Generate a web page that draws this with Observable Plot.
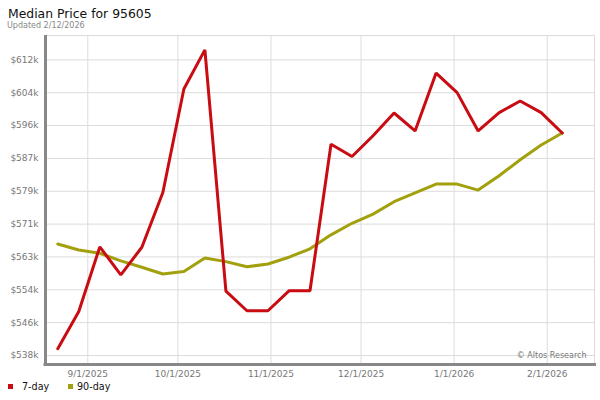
<!DOCTYPE html>
<html>
<head>
<meta charset="utf-8">
<script src="https://cdn.jsdelivr.net/npm/d3@7"></script>
<script src="https://cdn.jsdelivr.net/npm/@observablehq/plot@0.6"></script>
<style>
  body { margin: 0; background: #fff; font-family: "DejaVu Sans", sans-serif; }
  #wrap { position: relative; width: 600px; height: 400px; overflow: hidden; }
  #chart { position: absolute; left: 0; top: 0; }
  .abs { position: absolute; line-height: 1; white-space: nowrap; }
  #title { left: 8px; top: 7.5px; font-size: 12.4px; color: #111; }
  #sub { left: 7px; top: 21.6px; font-size: 8px; color: #888; }
  .sw { position: absolute; width: 5px; height: 5px; }
  .lg { font-size: 9.6px; color: #111; top: 381.8px; }
</style>
</head>
<body>
<div id="wrap">
  <div id="chart"></div>
  <div class="abs" id="title">Median Price for 95605</div>
  <div class="abs" id="sub">Updated 2/12/2026</div>
  <div id="legend"></div>
</div>
<script>
// ---- data ----
const dates = ["2025-08-22","2025-08-29","2025-09-05","2025-09-12","2025-09-19","2025-09-26",
  "2025-10-03","2025-10-10","2025-10-17","2025-10-24","2025-10-31","2025-11-07","2025-11-14",
  "2025-11-21","2025-11-28","2025-12-05","2025-12-12","2025-12-19","2025-12-26","2026-01-02",
  "2026-01-09","2026-01-16","2026-01-23","2026-01-30","2026-02-06"];
const sevenDay = [540200, 549500, 565700, 558700, 565600, 579300, 605200, 615000, 554600, 549700,
  549700, 554700, 554700, 591400, 588300, 593500, 599200, 594700, 609200, 604300,
  594700, 599300, 602200, 599300, 594200];
const ninetyDay = [566400, 564900, 564100, 562200, 560600, 558900, 559500, 562900, 562000, 560700,
  561400, 563100, 565200, 568700, 571600, 573900, 577000, 579200, 581400, 581400,
  579900, 583500, 587500, 591200, 594200];
const seriesNames = ["7-day", "90-day"];
const seriesColors = ["#c80c12", "#a3a00e"];
const yTicks = [538500, 546720, 554940, 563170, 571390, 579610, 587830, 596060, 604280, 612500];
const yTickLabels = ["$538k","$546k","$554k","$563k","$571k","$579k","$587k","$596k","$604k","$612k"];
const xTicks = ["2025-09-01","2025-10-01","2025-11-01","2025-12-01","2026-01-01","2026-02-01"];
const xTickLabels = ["9/1/2025","10/1/2025","11/1/2025","12/1/2025","1/1/2026","2/1/2026"];
const xDomain = ["2025-08-17T22:00Z", "2026-02-16T18:00Z"];
const yDomain = [536250, 618600];
const credit = "© Altos Research";

// ---- build ----
const rows = [];
dates.forEach((d, i) => {
  rows.push({date: new Date(d), value: sevenDay[i], series: seriesNames[0]});
  rows.push({date: new Date(d), value: ninetyDay[i], series: seriesNames[1]});
});
const xTickDates = xTicks.map(d => new Date(d));
const xLabelMap = new Map(xTickDates.map((d, i) => [+d, xTickLabels[i]]));
const yLabelMap = new Map(yTicks.map((t, i) => [t, yTickLabels[i]]));
const xd = xDomain.map(d => new Date(d));

const chart = Plot.plot({
  width: 600, height: 400,
  marginTop: 35, marginLeft: 45, marginRight: 6, marginBottom: 36,
  style: {fontFamily: "DejaVu Sans, sans-serif", fontSize: "9px", color: "#777", background: "transparent", overflow: "visible"},
  x: {type: "utc", domain: xd},
  y: {domain: yDomain},
  marks: [
    Plot.gridX(xTickDates, {stroke: "#dcdcdc", strokeOpacity: 1}),
    Plot.gridY(yTicks, {stroke: "#dcdcdc", strokeOpacity: 1}),
    Plot.frame({stroke: "#dcdcdc"}),
    Plot.text([credit], {frameAnchor: "bottom-right", dx: -8, dy: -7, fontSize: 8, fill: "#777", className: "credit"}),
    Plot.axisY(yTicks, {tickSize: 0, tickPadding: 7, tickFormat: d => yLabelMap.get(d), label: null, fill: "#777", fontSize: 9}),
    Plot.axisX(xTickDates, {tickSize: 0, tickPadding: 6, tickFormat: d => xLabelMap.get(+d), label: null, fill: "#777", fontSize: 9}),
    Plot.line(rows.filter(r => r.series === seriesNames[1]), {x: "date", y: "value", stroke: seriesColors[1], strokeWidth: 3, strokeLinejoin: "miter"}),
    Plot.line(rows.filter(r => r.series === seriesNames[0]), {x: "date", y: "value", stroke: seriesColors[0], strokeWidth: 3, strokeLinejoin: "miter"}),
    Plot.ruleX([xd[0]], {stroke: "#888", strokeWidth: 3, insetBottom: -2}),
    Plot.ruleY([yDomain[0]], {stroke: "#888", strokeWidth: 3, insetLeft: -1.5, insetRight: -2})
  ]
});
document.getElementById("chart").appendChild(chart);

// white box behind credit text
const ct = chart.querySelector(".credit text") || chart.querySelector("g.credit text");
if (ct) {
  const bb = ct.getBBox();
  const g = ct.parentNode;
  const r = document.createElementNS("http://www.w3.org/2000/svg", "rect");
  r.setAttribute("x", bb.x - 3); r.setAttribute("y", bb.y);
  r.setAttribute("width", bb.width + 6); r.setAttribute("height", bb.height);
  r.setAttribute("fill", "#fff");
  g.insertBefore(r, g.firstChild);
}

// legend
const legend = document.getElementById("legend");
const swX = [8, 68], txtX = [22, 77];
seriesNames.forEach((name, i) => {
  const s = document.createElement("div");
  s.className = "sw"; s.style.left = swX[i] + "px"; s.style.top = "384.3px"; s.style.background = seriesColors[i];
  legend.appendChild(s);
  const t = document.createElement("div");
  t.className = "abs lg"; t.style.left = txtX[i] + "px"; t.textContent = name;
  legend.appendChild(t);
});
</script>
</body>
</html>
